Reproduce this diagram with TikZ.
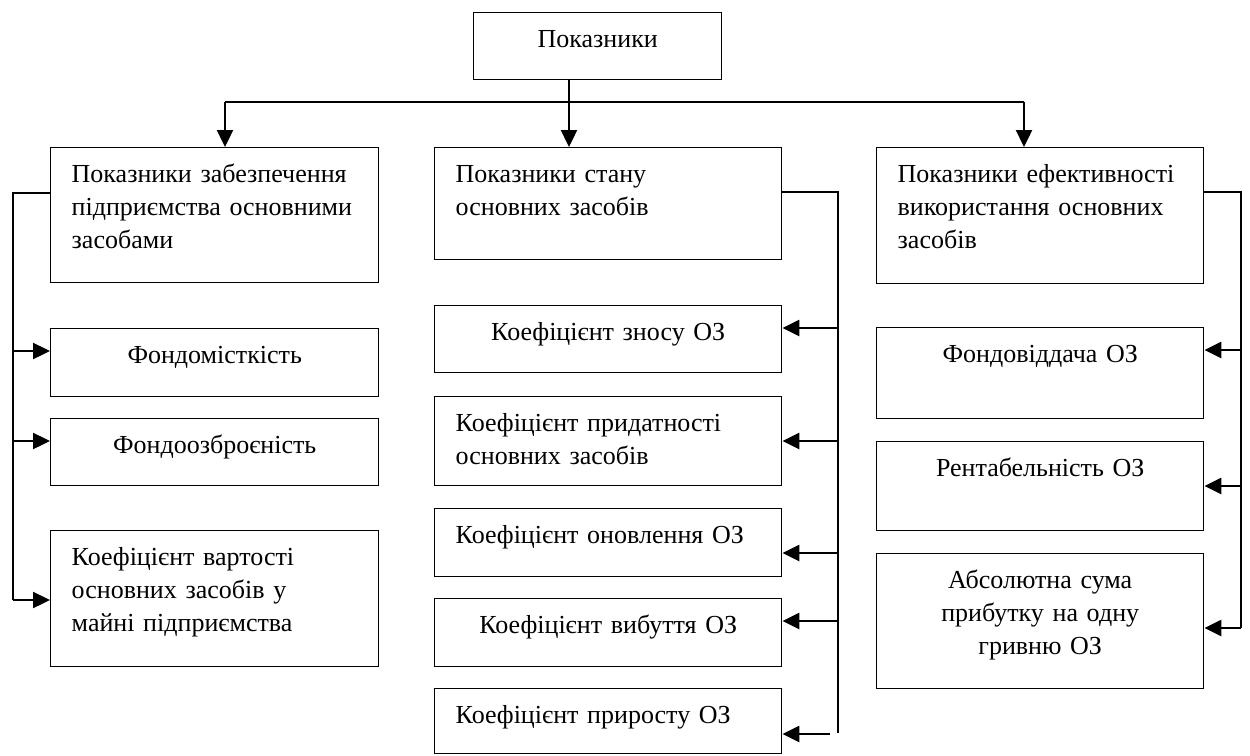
\documentclass[tikz,border=0pt]{standalone}
\usepackage{fontspec}
\setmainfont{Liberation Serif}
\usetikzlibrary{arrows.meta}
\tikzset{
  blok/.style={draw, line width=1.4pt, anchor=north west, inner xsep=21pt, inner ysep=12pt,
    text height=23pt, font=\fontsize{26}{33}\selectfont},
  liniya/.style={line width=2pt},
  strilka/.style={line width=2.4pt, -{Triangle[length=17pt,width=16pt]}}
}
\begin{document}
\begin{tikzpicture}[x=1pt,y=-1pt]
		\useasboundingbox (0,0) rectangle (1250,755);
		\node[blok, text width=206pt, align=center, text depth=20pt] (pokaz) at (473,12) {Показники};
		
		\node[blok, text width=286pt, align=left, text depth=88pt] (zabezp) at (50,147) {Показники забезпечення\\підприємства основними\\засобами};
		\node[blok, text width=305pt, align=left, text depth=65pt] (stan) at (434,147) {Показники стану\\основних засобів};
		\node[blok, text width=285pt, align=left, text depth=89pt] (efekt) at (876,147) {Показники ефективності\\використання основних\\засобів};
		
		\node[blok, text width=286pt, align=center, text depth=21pt] (fmist) at (50,328) {Фондомісткість};
		\node[blok, text width=286pt, align=center, text depth=20pt] (fozbr) at (50,418) {Фондоозброєність};
		\node[blok, text width=286pt, align=left, text depth=89pt] (kvart) at (50,530) {Коефіцієнт вартості\\основних засобів у\\майні підприємства};
		
		\node[blok, text width=305pt, align=center, text depth=20pt] (kznos) at (434,305) {Коефіцієнт зносу ОЗ};
		\node[blok, text width=305pt, align=left, text depth=42pt] (kprid) at (434,396) {Коефіцієнт придатності\\основних засобів};
		\node[blok, text width=305pt, align=left, text depth=21pt] (konov) at (434,508) {Коефіцієнт оновлення ОЗ};
		\node[blok, text width=305pt, align=center, text depth=21pt] (kvyb) at (434,598) {Коефіцієнт вибуття ОЗ};
		\node[blok, text width=305pt, align=left, text depth=18pt] (kprir) at (434,688) {Коефіцієнт приросту ОЗ};
		
		\node[blok, text width=285pt, align=center, text depth=44pt] (fvid) at (876,327) {Фондовіддача ОЗ};
		\node[blok, text width=285pt, align=center, text depth=42pt] (rent) at (876,441) {Рентабельність ОЗ};
		\node[blok, text width=285pt, align=center, text depth=88pt] (abs) at (876,553) {Абсолютна сума\\прибутку на одну\\гривню ОЗ};
	
		\coordinate (rozg) at (569,102);
		\coordinate (vliv) at (225,102);
		\coordinate (vprav) at (1024,102);
		\draw[liniya] (vliv) -- (vprav);
		\draw[strilka] (rozg |- pokaz.south) -- (rozg |- stan.north);
		\draw[strilka] (vliv) -- (vliv |- zabezp.north);
		\draw[strilka] (vprav) -- (vprav |- efekt.north);
		
		% liva gilka
		\draw[liniya] (zabezp.west |- 0,193) -- (13,193) -- (13,600);
		\foreach \y/\n in {351/fmist, 441/fozbr, 600/kvart}
			\draw[strilka] (13,\y) -- (\n.west |- 0,\y);
		
		% serednja gilka
		\draw[liniya] (stan.east |- 0,192) -- (838,192) -- (838,733);
		\foreach \y/\n in {328/kznos, 441/kprid, 553/konov, 621/kvyb}
			\draw[strilka] (838,\y) -- (\n.east |- 0,\y);
		\draw[strilka] (830,734) -- (kprir.east |- 0,734);
		
		% prava gilka
		\draw[liniya] (efekt.east |- 0,192) -- (1241,192) -- (1241,628);
		\foreach \y/\n in {350/fvid, 486/rent, 628/abs}
			\draw[strilka] (1241,\y) -- (\n.east |- 0,\y);
		%\draw[liniya,red] (pokaz) -- (stan);
\end{tikzpicture}
\end{document}
